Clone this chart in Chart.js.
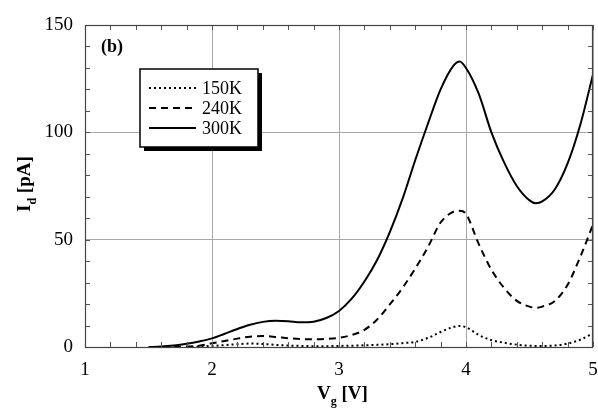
<!DOCTYPE html>
<html>
<head>
<meta charset="utf-8">
<script src="https://cdn.jsdelivr.net/npm/chart.js@4.4.1/dist/chart.umd.min.js"></script>
<style>
  html, body { margin: 0; padding: 0; background: #fff; }
  #wrap { width: 598px; height: 415px; }
</style>
</head>
<body>
<div id="wrap"><canvas id="idChart" width="598" height="415"></canvas></div>
<script>
// gate voltage samples (V) and drain current (pA)
const vg150 = [1.8, 1.9, 2.0, 2.1, 2.2, 2.3, 2.4, 2.5, 2.6, 2.7, 2.8, 2.9, 3.0, 3.1, 3.2, 3.3, 3.4, 3.5, 3.6, 3.7, 3.8, 3.9, 3.95, 4.0, 4.1, 4.2, 4.3, 4.4, 4.5, 4.6, 4.7, 4.8, 4.9, 5.0];
const id150 = [0, 0.2, 0.5, 0.9, 1.3, 1.6, 1.4, 1.0, 0.7, 0.5, 0.4, 0.4, 0.5, 0.6, 0.8, 1.0, 1.3, 1.8, 2.4, 4.2, 7.0, 9.3, 9.8, 9.2, 5.6, 3.2, 2.0, 1.1, 0.6, 0.5, 0.7, 1.6, 3.4, 6.4];

const vg240 = [1.7, 1.8, 1.9, 2.0, 2.1, 2.2, 2.3, 2.4, 2.5, 2.6, 2.7, 2.8, 2.9, 3.0, 3.1, 3.2, 3.3, 3.4, 3.5, 3.6, 3.7, 3.8, 3.9, 3.95, 4.0, 4.1, 4.2, 4.3, 4.4, 4.5, 4.55, 4.6, 4.7, 4.8, 4.9, 5.0];
const id240 = [0, 0.2, 0.6, 1.7, 2.8, 3.9, 4.8, 5.1, 4.7, 4.1, 3.7, 3.6, 3.8, 4.3, 5.6, 8.0, 12.8, 19.8, 27.5, 36.5, 46.5, 58, 63, 63.5, 62, 48, 36, 27.5, 21.5, 18.8, 18.3, 18.8, 21.5, 29, 42, 57];

const vg300 = [1.5, 1.6, 1.7, 1.8, 1.9, 2.0, 2.1, 2.2, 2.3, 2.4, 2.5, 2.6, 2.7, 2.8, 2.9, 3.0, 3.1, 3.2, 3.3, 3.4, 3.5, 3.6, 3.7, 3.8, 3.9, 3.95, 4.0, 4.1, 4.2, 4.3, 4.4, 4.5, 4.55, 4.6, 4.7, 4.8, 4.9, 5.0];
const id300 = [0, 0.2, 0.7, 1.5, 2.6, 4.0, 6.2, 8.4, 10.4, 11.7, 12.2, 12.0, 11.5, 11.8, 13.5, 16.8, 22.5, 30.5, 40.5, 53.5, 69, 87, 104, 120, 131, 133, 130, 118, 100, 86, 75, 68.3, 67, 67.8, 73.5, 85.5, 103.5, 127];

const seriesLabels = ['150K', '240K', '300K'];
const xTicks = [1, 2, 3, 4, 5];
const yTicks = [0, 50, 100, 150];

const serif = "'Liberation Serif', 'DejaVu Serif', serif";

function toPoints(xs, ys) {
    return xs.map((x, i) => ({ x: x, y: ys[i] }));
}

// frame, inward minor ticks, axis titles, "(b)" and the boxed legend
const decorPlugin = {
    id: 'decor',
    afterDraw(chart) {
        const ctx = chart.ctx;
        const a = chart.chartArea;
        const xs = chart.scales.x;
        const ys = chart.scales.y;
        ctx.save();

        // minor ticks
        ctx.strokeStyle = '#555';
        ctx.lineWidth = 1;
        ctx.beginPath();
        for (let v = 1; v <= 5.001; v += 0.2) {
            const px = Math.round(xs.getPixelForValue(v)) + 0.5;
            ctx.moveTo(px, a.bottom); ctx.lineTo(px, a.bottom - 5);
            ctx.moveTo(px, a.top); ctx.lineTo(px, a.top + 5);
        }
        for (let v = 0; v <= 150; v += 10) {
            const py = Math.round(ys.getPixelForValue(v)) + 0.5;
            ctx.moveTo(a.left, py); ctx.lineTo(a.left + 5, py);
            ctx.moveTo(a.right, py); ctx.lineTo(a.right - 5, py);
        }
        ctx.stroke();

        // frame
        ctx.strokeStyle = '#444';
        ctx.lineWidth = 1.2;
        ctx.strokeRect(a.left + 0.5, a.top + 0.5, a.right - a.left - 1, a.bottom - a.top);

        ctx.fillStyle = '#000';
        ctx.textBaseline = 'alphabetic';

        // x title: V_g [V]
        let x0 = 317, y0 = 399;
        ctx.font = 'bold 19px ' + serif;
        ctx.textAlign = 'left';
        ctx.fillText('V', x0, y0);
        let w = ctx.measureText('V').width;
        ctx.font = 'bold 12px ' + serif;
        ctx.fillText('g', x0 + w, y0 + 6);
        let ws = ctx.measureText('g').width;
        ctx.font = 'bold 19px ' + serif;
        ctx.fillText(' [V]', x0 + w + ws, y0);

        // y title: I_d [pA], rotated
        ctx.save();
        ctx.translate(30, 212);
        ctx.rotate(-Math.PI / 2);
        ctx.font = 'bold 19px ' + serif;
        ctx.fillText('I', 0, 0);
        w = ctx.measureText('I').width;
        ctx.font = 'bold 12px ' + serif;
        ctx.fillText('d', w, 6);
        ws = ctx.measureText('d').width;
        ctx.font = 'bold 19px ' + serif;
        ctx.fillText(' [pA]', w + ws, 0);
        ctx.restore();

        // panel label
        ctx.font = 'bold 18px ' + serif;
        ctx.fillText('(b)', 101, 52);

        // legend box with drop shadow
        const bx = 140, by = 69, bw = 118, bh = 78;
        ctx.fillStyle = '#000';
        ctx.fillRect(bx + 4, by + 4, bw, bh);
        ctx.fillStyle = '#fff';
        ctx.fillRect(bx, by, bw, bh);
        ctx.strokeStyle = '#000';
        ctx.lineWidth = 1.5;
        ctx.strokeRect(bx, by, bw, bh);

        ctx.font = '18px ' + serif;
        chart.data.datasets.forEach((ds, i) => {
            const ly = by + 19 + i * 20;
            ctx.strokeStyle = '#000';
            ctx.lineWidth = ds.borderWidth;
            ctx.setLineDash(ds.borderDash || []);
            ctx.beginPath();
            ctx.moveTo(bx + 9, ly);
            ctx.lineTo(bx + 56, ly);
            ctx.stroke();
            ctx.setLineDash([]);
            ctx.fillStyle = '#000';
            ctx.textBaseline = 'middle';
            ctx.fillText(ds.label, bx + 62, ly + 1);
        });
        ctx.restore();
    }
};

const lineStyle = { borderColor: '#000', borderWidth: 2, pointRadius: 0, cubicInterpolationMode: 'monotone', fill: false };

const chart = new Chart(document.getElementById('idChart').getContext('2d'), {
    type: 'line',
    data: {
        datasets: [
            Object.assign({ label: seriesLabels[0], data: toPoints(vg150, id150), borderDash: [2, 3] }, lineStyle),
            Object.assign({ label: seriesLabels[1], data: toPoints(vg240, id240), borderDash: [7, 5] }, lineStyle),
            Object.assign({ label: seriesLabels[2], data: toPoints(vg300, id300) }, lineStyle)
        ]
    },
    options: {
        responsive: false,
        animation: false,
        layout: { padding: { left: 0, right: 5, top: 25, bottom: 0 } },
        plugins: { legend: { display: false }, tooltip: { enabled: false } },
        scales: {
            x: {
                type: 'linear',
                min: 1,
                max: 5,
                afterBuildTicks: s => { s.ticks = xTicks.map(v => ({ value: v })); },
                afterFit: s => { s.height = 68; s.paddingLeft = 0; s.paddingRight = 0; },
                ticks: { color: '#000', padding: 12, font: { family: serif, size: 19 } },
                grid: { color: '#a8a8a8', lineWidth: 1, drawTicks: false },
                border: { display: false }
            },
            y: {
                min: 0,
                max: 150,
                afterBuildTicks: s => { s.ticks = yTicks.map(v => ({ value: v })); },
                afterFit: s => { s.width = 85; s.paddingTop = 0; s.paddingBottom = 0; },
                ticks: { color: '#000', padding: 12, font: { family: serif, size: 19 } },
                grid: { color: '#a8a8a8', lineWidth: 1, drawTicks: false },
                border: { display: false }
            }
        }
    },
    plugins: [decorPlugin]
});
</script>
</body>
</html>
